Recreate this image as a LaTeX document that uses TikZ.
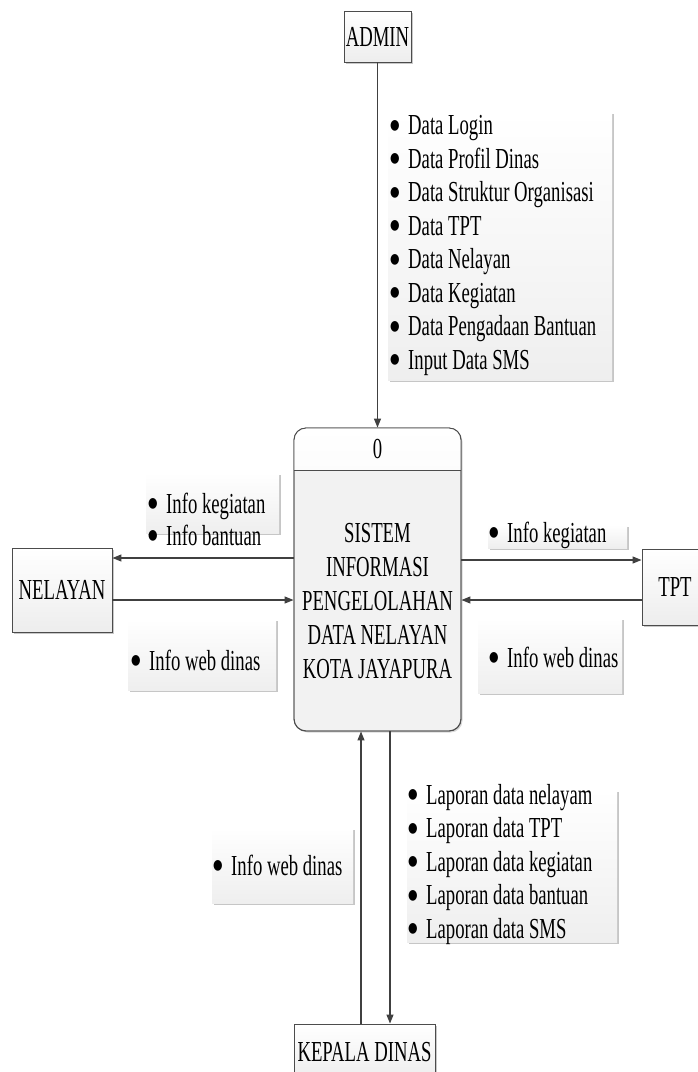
\documentclass[tikz,border=0pt]{standalone}
\usepackage{fontspec}
\setmainfont{Liberation Serif}[FakeStretch=0.645]
\newfontfamily\bulfont{DejaVu Sans}[FakeStretch=0.78]
\usetikzlibrary{arrows.meta,shadows}
\tikzset{
  base/.style={inner sep=0pt, font=\fontsize{29}{33.5}\selectfont},
  entity/.style={base, rectangle, draw=black!70, line width=0.9pt, top color=white, bottom color=gray!14,
    drop shadow={shadow xshift=2pt, shadow yshift=-2pt, fill=gray!60, opacity=0.7}},
  procbox/.style={rectangle, rounded corners=12pt, draw=black!70, line width=0.9pt, fill=gray!10,
    minimum width=167pt, minimum height=303pt, inner sep=0pt,
    drop shadow={shadow xshift=1.5pt, shadow yshift=-1.5pt, fill=gray!50, opacity=0.6}},
  lbl/.style={top color=white, bottom color=gray!13},
  lblshadow/.style={fill=gray!45},
  listtext/.style={base, align=left, anchor=west},
  flow/.style={draw=black!75, line width=1.2pt, -{Triangle[length=9pt,width=7pt]}}
}
\newcommand{\bl}{\makebox[18pt][l]{\raisebox{5.5pt}{\fontsize{14}{14}\bulfont ●}}}
\begin{document}
\begin{tikzpicture}[x=1pt,y=-1pt]
\path[use as bounding box, clip] (0,0) rectangle (698,1072);
\fill[white] (0,0) rectangle (698,1072);

% label backgrounds
\foreach \a/\b/\c/\d in {388/112/612/380, 146/473/279/533, 128/619/276/690, 488/525/627/548,
  478/618/622/693, 212/828/353/903, 407/790/617/942}{
  \fill[lblshadow] (\a+2,\b+2) rectangle (\c+2,\d+2);
  \fill[lbl] (\a,\b) rectangle (\c,\d);
}

% entities
\node[entity, minimum width=67pt, minimum height=51pt] (admin) at (377.5,36.5) {ADMIN};
\node[entity, minimum width=100pt, minimum height=84pt] (nelayan) at (62,590) {NELAYAN};
\node[entity, minimum width=66pt, minimum height=76pt] (tpt) at (675,587) {TPT};
\node[entity, minimum width=141pt, minimum height=56pt] (kepala) at (364.5,1052) {KEPALA DINAS};

% process
\node[procbox] (proc) at (377.5,579.5) {};
\begin{scope}
  \clip (294,428) rectangle (461,470);
  \fill[top color=white, bottom color=gray!16, rounded corners=12pt] (294,428) rectangle (461,731);
\end{scope}
\draw[draw=black!70, line width=0.9pt, rounded corners=12pt] (294,428) rectangle (461,731);
\draw[draw=black!70, line width=0.9pt] (294,470) -- (461,470);
\node[base] (pnum) at (377.5,449) {0};
\node[base, align=center, font=\fontsize{29}{34}\selectfont] (ptext) at (377.5,601)
  {SISTEM\\INFORMASI\\PENGELOLAHAN\\DATA NELAYAN\\KOTA JAYAPURA};

% connectors
\draw[flow] (admin.south) -- (proc.north);
\draw[flow] ([yshift=21.5pt]proc.west) -- ([yshift=32pt]nelayan.east);
\draw[flow] ([yshift=-10pt]nelayan.east) -- ([yshift=-20.5pt]proc.west);
\draw[flow] ([yshift=19.5pt]proc.east) -- ([yshift=27pt]tpt.west);
\draw[flow] ([yshift=-13pt]tpt.west) -- ([yshift=-20.5pt]proc.east);
\draw[flow] ([xshift=-3.5pt]kepala.north) -- ([xshift=-16.5pt]proc.south);
\draw[flow] ([xshift=12.5pt]proc.south) -- ([xshift=25.5pt]kepala.north);

% labels
\node[listtext] (ladmin) at (390,245.5) {\bl Data Login\\\bl Data Profil Dinas\\\bl Data Struktur Organisasi\\\bl Data TPT\\\bl Data Nelayan\\\bl Data Kegiatan\\\bl Data Pengadaan Bantuan\\\bl Input Data SMS};
\node[listtext, font=\fontsize{29}{32}\selectfont] (lnel1) at (148,519) {\bl Info kegiatan\\\bl Info bantuan};
\node[listtext] (lnel2) at (131,660) {\bl Info web dinas};
\node[listtext] (ltpt1) at (489,535) {\bl Info kegiatan};
\node[listtext] (ltpt2) at (489,657) {\bl Info web dinas};
\node[listtext] (lkep1) at (213,865) {\bl Info web dinas};
\node[listtext] (lkep2) at (408,864.5) {\bl Laporan data nelayam\\\bl Laporan data TPT\\\bl Laporan data kegiatan\\\bl Laporan data bantuan\\\bl Laporan data SMS};
\end{tikzpicture}
\end{document}
